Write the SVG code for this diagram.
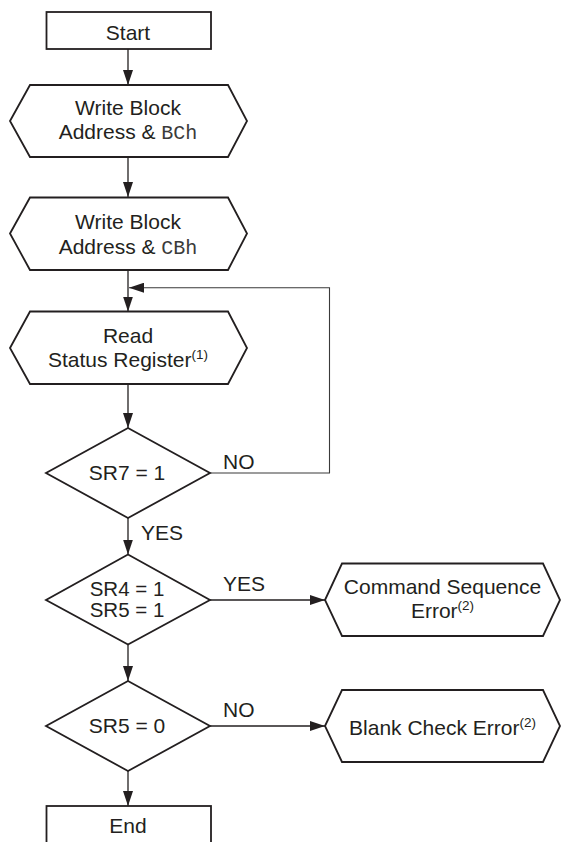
<svg xmlns="http://www.w3.org/2000/svg" width="561" height="842" viewBox="0 0 561 842">
<style>
.shape{fill:#fff;stroke:#231f20;stroke-width:1.8;stroke-linejoin:miter}
.conn{fill:none;stroke:#231f20;stroke-width:1.3}
.loop{fill:none;stroke:#3a3a3a;stroke-width:1.1}
text{font-family:"Liberation Sans",Arial,Helvetica,sans-serif;font-size:21px;fill:#231f20}
.c{text-anchor:middle}
.mono{font-family:"Liberation Mono","Courier New",monospace;font-size:20px;fill:#3a3a3a}
.sup{font-size:13.5px}
.tight{font-size:20.5px}
</style>
<defs>
<marker id="arr" markerUnits="userSpaceOnUse" markerWidth="15" markerHeight="10" refX="15" refY="5" orient="auto">
<path d="M0,0 L15,5 L0,10 z" fill="#231f20"/>
</marker>
</defs>
<g id="connectors">
<path class="conn" d="M128,49 V85" marker-end="url(#arr)"/>
<path class="conn" d="M128,157 V197" marker-end="url(#arr)"/>
<path class="conn" d="M128,270 V311.5" marker-end="url(#arr)"/>
<path class="conn" d="M128,384 V428" marker-end="url(#arr)"/>
<path class="loop" d="M210,473 H329.5 V287.7 H129" marker-end="url(#arr)"/>
<path class="conn" d="M128,518 V554.5" marker-end="url(#arr)"/>
<path class="conn" d="M210,600 H325" marker-end="url(#arr)"/>
<path class="conn" d="M128,644.5 V681" marker-end="url(#arr)"/>
<path class="conn" d="M210,726 H325" marker-end="url(#arr)"/>
<path class="conn" d="M128,771 V806" marker-end="url(#arr)"/>
<text x="223" y="469">NO</text>
<text x="141" y="540">YES</text>
<text x="223" y="591">YES</text>
<text x="223" y="717">NO</text>
</g>
<g id="start">
<rect class="shape" x="46.5" y="12" width="164.5" height="37"/>
<text class="c" x="128" y="40">Start</text>
</g>
<g id="write-bch">
<polygon class="shape" points="10,121 30,85 228,85 247,121 228,157 30,157"/>
<text class="c" x="128" y="115">Write Block</text>
<text class="c" x="128" y="139">Address &amp; <tspan class="mono">BCh</tspan></text>
</g>
<g id="write-cbh">
<polygon class="shape" points="10,233.5 30,197.5 228,197.5 247,233.5 228,270 30,270"/>
<text class="c" x="128" y="229">Write Block</text>
<text class="c" x="128" y="254">Address &amp; <tspan class="mono">CBh</tspan></text>
</g>
<g id="read-status">
<polygon class="shape" points="10,348 30,311.5 228,311.5 247,348 228,384 30,384"/>
<text class="c" x="128" y="343">Read</text>
<text class="c" x="128" y="367">Status Register<tspan class="sup" dy="-8">(1)</tspan></text>
</g>
<g id="sr7">
<polygon class="shape" points="128,428 210,473 128,518 46,473"/>
<text class="c" x="127" y="480">SR7 = 1</text>
</g>
<g id="sr4sr5">
<polygon class="shape" points="128,554.5 210,600 128,644.5 46,600"/>
<text class="c tight" x="127" y="596">SR4 = 1</text>
<text class="c tight" x="127" y="617">SR5 = 1</text>
</g>
<g id="cmd-error">
<polygon class="shape" points="325,600 342,563.5 543,563.5 560,600 543,636 342,636"/>
<text class="c" x="442.5" y="594">Command Sequence</text>
<text class="c" x="442.5" y="618">Error<tspan class="sup" dy="-8">(2)</tspan></text>
</g>
<g id="sr5">
<polygon class="shape" points="128,681 210,726 128,771 46,726"/>
<text class="c" x="127" y="733">SR5 = 0</text>
</g>
<g id="blank-error">
<polygon class="shape" points="325,726 342,690 543,690 560,726 543,762 342,762"/>
<text class="c" x="442.5" y="735">Blank Check Error<tspan class="sup" dy="-8">(2)</tspan></text>
</g>
<g id="end">
<rect class="shape" x="46.5" y="806" width="164.5" height="40"/>
<text class="c" x="128" y="833">End</text>
</g>
</svg>
